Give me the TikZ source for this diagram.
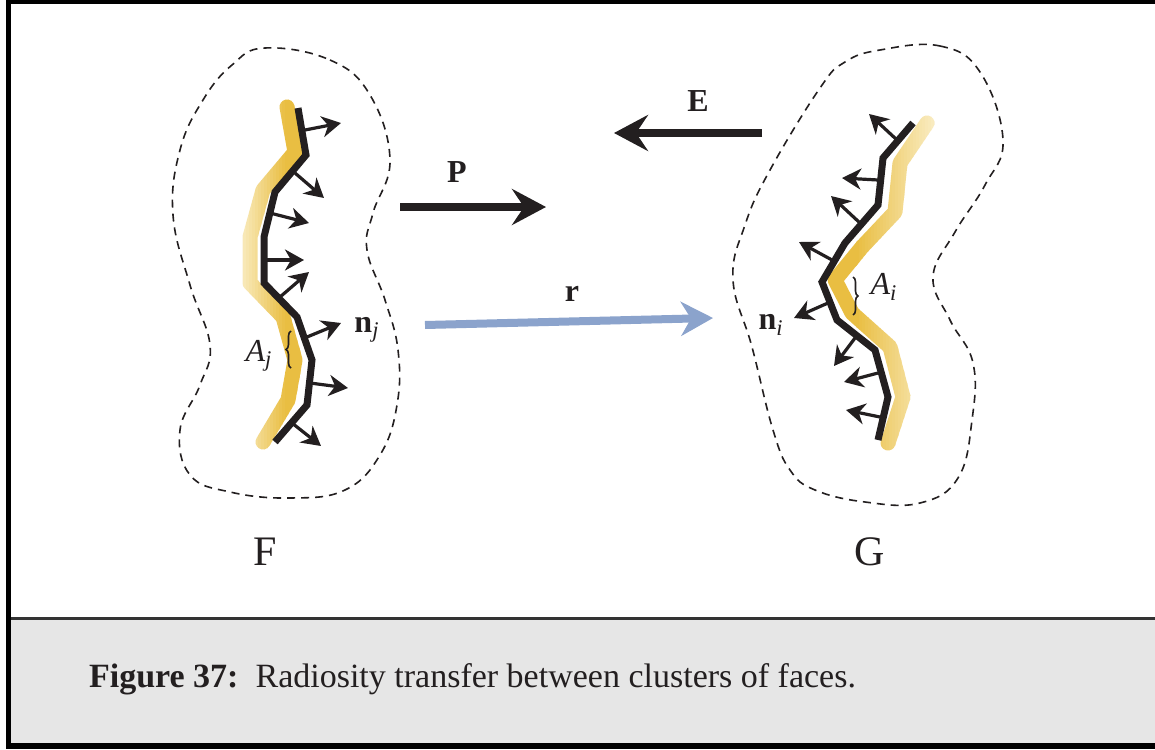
\documentclass[tikz,border=0pt]{standalone}
\usepackage{fontspec}
\setmainfont{Liberation Serif}
\usepackage{tikz}
\usetikzlibrary{arrows.meta}
\usetikzlibrary{decorations.pathreplacing}
\usepackage{xcolor}
\definecolor{FaceGold}{RGB}{233,190,66}
\definecolor{FacePale}{RGB}{251,241,208}
\definecolor{RayBlue}{RGB}{139,163,204}
\definecolor{CapGray}{RGB}{230,230,230}
\definecolor{Ink}{RGB}{35,31,32}
\tikzset{
	outline/.style={Ink, line width=0.8pt, dash pattern=on 4pt off 3pt},
	facebase/.style={line width=7.5pt, line cap=round, line join=round},
	facetop/.style={Ink, line width=3.5pt, line join=miter},
	normalvec/.style={Ink, line width=1.6pt, -{Stealth[length=9.5pt,width=10.5pt,inset=3pt]}},
	flux/.style={Ink, line width=4pt, -{Stealth[length=17pt,width=18pt,inset=6pt]}},
	ray/.style={RayBlue, line width=4pt, -{Stealth[length=16pt,width=17pt,inset=5pt]}},
	areabrace/.style={Ink, decorate, decoration={brace, amplitude=2.5pt}, line width=0.8pt},
	lab/.style={Ink, font=\fontsize{16}{18}\selectfont},
	cluster/.style={Ink, font=\fontsize{21}{25}\selectfont},
}
% face polylines of the two clusters
\def\Fbase{(287,107) -- (295,152) -- (263,190) -- (250,237) -- (250,283) -- (283,317) -- (295,360) -- (288,400) -- (263,442)}
\def\Ftop{(298,108) -- (306,155) -- (275,192) -- (264,237) -- (264,283) -- (297,317) -- (312,360) -- (307,405) -- (275,442)}
\def\Gbase{(927,123) -- (900,163) -- (895,212) -- (862,247) -- (835,280) -- (852,313) -- (890,347) -- (903,397) -- (888,443)}
\def\Gtop{(913,123) -- (883,158) -- (878,205) -- (845,243) -- (822,282) -- (837,320) -- (875,350) -- (888,397) -- (878,440)}

\begin{document}
\begin{tikzpicture}[x=0.5pt,y=-0.5pt]

	% Frame and caption band
	\useasboundingbox (0,0) rectangle (1155,749);
	\fill[white] (0,0) rectangle (1155,749);
	\fill[CapGray] (11,619) rectangle (1155,743);
	\fill[black!80] (11,617) rectangle (1155,620);
	\fill[black] (6,0) rectangle (1155,4);
	\fill[black] (6,0) rectangle (11,749);
	\fill[black] (6,743) rectangle (1155,749);
	\node[anchor=base west, Ink, font=\fontsize{17}{20}\selectfont] (caption) at (82,687)
		{\textbf{Figure 37:}\ \ Radiosity transfer between clusters of faces.};

	% Cluster outlines
	\draw[outline] plot[smooth cycle, tension=0.7] coordinates {(265,48) (330,60) (370,95) (390,160) (373,213) (367,250) (385,300) (398,350) (397,405) (380,455) (345,490) (290,498) (230,492) (190,475) (180,430) (200,385) (210,345) (190,285) (173,215) (180,150) (203,100) (232,65)};
	\draw[outline] plot[smooth cycle, tension=0.7] coordinates {(880,50) (940,46) (980,72) (1003,140) (985,185) (955,232) (933,277) (950,320) (973,363) (972,420) (958,478) (920,503) (865,502) (815,490) (790,470) (773,430) (752,347) (733,280) (745,225) (770,170) (820,88) (845,62)};

	% Yellow faces, shaded in strips
	\foreach \k in {0,...,19} {
		\pgfmathsetmacro{\xa}{240+3*\k}
		\pgfmathtruncatemacro{\pct}{min(100,12+6*\k)}
		\begin{scope}
			\clip (\xa,90) rectangle ({\xa+3.4},460);
			\draw[facebase, FaceGold!\pct!FacePale] \Fbase;
		\end{scope}
	}
	\begin{scope}
		\clip (299,90) rectangle (330,460);
		\draw[facebase, FaceGold] \Fbase;
	\end{scope}
	\begin{scope}
		\clip (800,90) rectangle (858,470);
		\draw[facebase, FaceGold] \Gbase;
	\end{scope}
	\foreach \k in {0,...,28} {
		\pgfmathsetmacro{\xa}{856+3*\k}
		\pgfmathtruncatemacro{\pct}{max(12,100-3.5*\k)}
		\begin{scope}
			\clip (\xa,90) rectangle ({\xa+3.4},470);
			\draw[facebase, FaceGold!\pct!FacePale] \Gbase;
		\end{scope}
	}

	% Black faces
	\draw[facetop] \Ftop;
	\draw[facetop] \Gtop;

	% Face normals
	\foreach \sx/\sy/\ex/\ey in {305/130/341/123, 295/173/324/198, 270/213/309/223, 264/260/304/260,
		280/297/309/272, 307/337/341/323, 310/383/348/388, 292/423/321/446}
		\draw[normalvec] (\sx,\sy) -- (\ex,\ey);
	\foreach \sx/\sy/\ex/\ey in {897/140/869/114, 878/180/842/178, 860/223/831/196, 832/260/799/242,
		828/303/794/318, 855/338/834/366, 878/373/844/382, 880/417/846/410}
		\draw[normalvec] (\sx,\sy) -- (\ex,\ey);

	% Area braces and labels
	\draw[areabrace] (291,368) -- (291,331);
	\draw[areabrace] (853,277) -- (853,315);
	\node[lab] (Aj) at (259,356) {\textit{A}\textsubscript{\textit{j}}};
	\node[lab] (nj) at (367,330) {\textbf{n}\textsubscript{\textit{j}}};
	\node[lab] (Ai) at (884,287) {\textit{A}\textsubscript{\textit{i}}};
	\node[lab] (ni) at (771,325) {\textbf{n}\textsubscript{\textit{i}}};

	% Transfer arrows
	\coordinate (P-tail) at (400,207);
	\coordinate (P-head) at (546,207);
	\coordinate (E-tail) at (762,133);
	\coordinate (E-head) at (614,133);
	\coordinate (r-tail) at (425,325);
	\coordinate (r-head) at (713,318);
	\draw[flux] (P-tail) -- (P-head);
	\draw[flux] (E-tail) -- (E-head);
	\draw[ray] (r-tail) -- (r-head);
	\node[lab] (P) at (457,172) {\textbf{P}};
	\node[lab] (E) at (698,101) {\textbf{E}};
	\node[lab] (r) at (572,294) {\textbf{r}};

	% Cluster names
	\node[cluster] (F) at (265,552) {F};
	\node[cluster] (G) at (870,552) {G};

\end{tikzpicture}
\end{document}
